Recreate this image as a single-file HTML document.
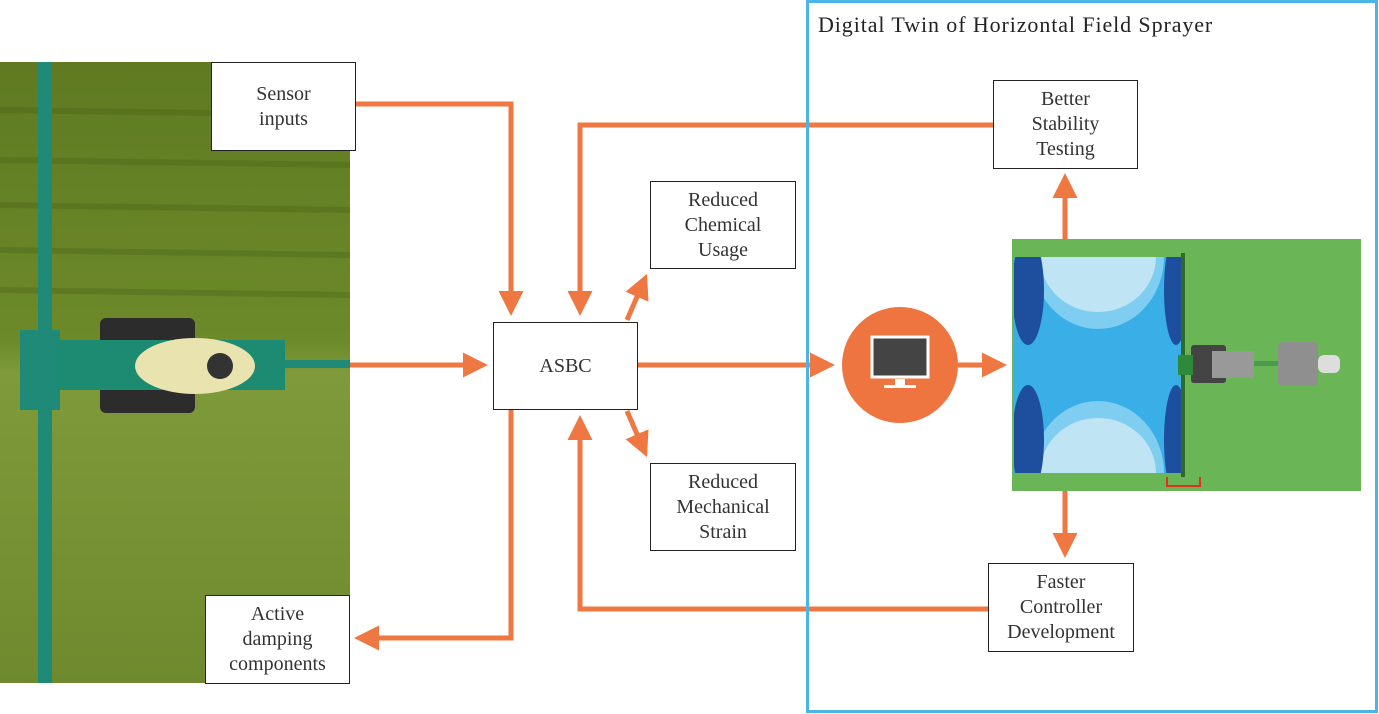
<!DOCTYPE html>
<html><head><meta charset="utf-8"><style>
body{margin:0;background:#fff;width:1379px;height:714px;overflow:hidden;position:relative;font-family:"Liberation Serif",serif}
.b{position:absolute;background:#fff;border:1.5px solid #222;box-sizing:border-box;display:flex;align-items:center;justify-content:center;text-align:center;font-size:20px;line-height:25px;color:#333}
</style></head><body>
<svg width="1379" height="714" style="position:absolute;left:0;top:0">
<defs>
<linearGradient id="g" x1="0" y1="0" x2="0" y2="1">
<stop offset="0" stop-color="#5f7a22"/><stop offset="0.45" stop-color="#6d8a2a"/><stop offset="0.5" stop-color="#7e9a3a"/><stop offset="1" stop-color="#6f8a2e"/></linearGradient>
<marker id="a" markerWidth="6" markerHeight="6" refX="3" refY="3" orient="auto" markerUnits="strokeWidth"><path d="M0,0.5 L5,3 L0,5.5 Z" fill="#ef7842"/></marker>
<clipPath id="c"><rect x="1014" y="257" width="169" height="216"/></clipPath>
</defs>
<rect x="0" y="62" width="350" height="621" fill="url(#g)"/>
<g opacity="0.25" stroke="#3d5212" stroke-width="6">
<line x1="0" y1="110" x2="350" y2="115"/><line x1="0" y1="160" x2="350" y2="165"/><line x1="0" y1="205" x2="350" y2="210"/><line x1="0" y1="250" x2="350" y2="255"/><line x1="0" y1="290" x2="350" y2="295"/></g>
<rect x="38" y="62" width="14" height="621" fill="#1f8a78"/>
<rect x="20" y="330" width="40" height="80" fill="#1f8a78"/>
<rect x="100" y="318" width="95" height="28" rx="6" fill="#2c2c2c"/>
<rect x="100" y="385" width="95" height="28" rx="6" fill="#2c2c2c"/>
<rect x="55" y="340" width="230" height="50" fill="#1d8a72"/>
<ellipse cx="195" cy="366" rx="60" ry="28" fill="#e9e3b0"/>
<circle cx="220" cy="366" r="13" fill="#333"/>
<rect x="285" y="360" width="65" height="8" fill="#1f8a78"/>
<g fill="none" stroke="#ef7842" stroke-width="5">
<path d="M355,104H511V306" marker-end="url(#a)"/>
<path d="M993,125H580V306" marker-end="url(#a)"/>
<path d="M350,365H478" marker-end="url(#a)"/>
<path d="M638,365H825" marker-end="url(#a)"/>
<path d="M958,365H997" marker-end="url(#a)"/>
<path d="M511,409V638H364" marker-end="url(#a)"/>
<path d="M988,609H580V425" marker-end="url(#a)"/>
<path d="M627,320L643,283" marker-end="url(#a)"/>
<path d="M627,411L643,448" marker-end="url(#a)"/>
<path d="M1065,239V183" marker-end="url(#a)"/>
<path d="M1065,491V548" marker-end="url(#a)"/>
</g>
<rect x="1012" y="239" width="349" height="252" fill="#6ab556"/>
<g clip-path="url(#c)">
<rect x="1014" y="257" width="169" height="216" fill="#3aaee6"/>
<ellipse cx="1098" cy="257" rx="66" ry="72" fill="#7fcdf0"/>
<ellipse cx="1098" cy="257" rx="58" ry="55" fill="#bfe4f4"/>
<ellipse cx="1098" cy="473" rx="66" ry="72" fill="#7fcdf0"/>
<ellipse cx="1098" cy="473" rx="58" ry="55" fill="#bfe4f4"/>
<ellipse cx="1028" cy="290" rx="16" ry="55" fill="#1d4f9e"/>
<ellipse cx="1028" cy="440" rx="16" ry="55" fill="#1d4f9e"/>
<ellipse cx="1176" cy="290" rx="12" ry="55" fill="#1d4f9e"/>
<ellipse cx="1176" cy="440" rx="12" ry="55" fill="#1d4f9e"/>
</g>
<rect x="1181" y="253" width="4" height="224" fill="#2d6b2a"/>
<path d="M1167,477V486H1200V477" fill="none" stroke="#e03020" stroke-width="2"/>
<rect x="1191" y="345" width="35" height="38" rx="3" fill="#444"/>
<rect x="1212" y="351" width="42" height="27" fill="#999"/>
<rect x="1254" y="361" width="24" height="5" fill="#4a9a50"/>
<rect x="1278" y="342" width="40" height="44" rx="5" fill="#8f8f8f"/>
<rect x="1318" y="355" width="22" height="18" rx="6" fill="#ddd"/>
<rect x="1178" y="355" width="15" height="20" fill="#2e8a3a"/>
<circle cx="900" cy="365" r="58" fill="#ee7440"/>
<rect x="872" y="337" width="56" height="40" fill="#444" stroke="#fff" stroke-width="3"/>
<rect x="895" y="379" width="10" height="6" fill="#fff"/>
<rect x="884" y="385" width="32" height="3" fill="#fff"/>
<rect x="807.5" y="1.5" width="569" height="710" fill="none" stroke="#4cb4e7" stroke-width="3"/>
<text x="818" y="32" font-family="Liberation Serif,serif" font-size="22" letter-spacing="0.9" fill="#222">Digital Twin of Horizontal Field Sprayer</text>
</svg>
<div class="b" style="left:211px;top:62px;width:145px;height:89px">Sensor<br>inputs</div>
<div class="b" style="left:205px;top:595px;width:145px;height:89px">Active<br>damping<br>components</div>
<div class="b" style="left:493px;top:322px;width:145px;height:88px">ASBC</div>
<div class="b" style="left:650px;top:181px;width:146px;height:88px">Reduced<br>Chemical<br>Usage</div>
<div class="b" style="left:650px;top:463px;width:146px;height:88px">Reduced<br>Mechanical<br>Strain</div>
<div class="b" style="left:993px;top:80px;width:145px;height:89px">Better<br>Stability<br>Testing</div>
<div class="b" style="left:988px;top:563px;width:146px;height:89px">Faster<br>Controller<br>Development</div>
</body></html>
